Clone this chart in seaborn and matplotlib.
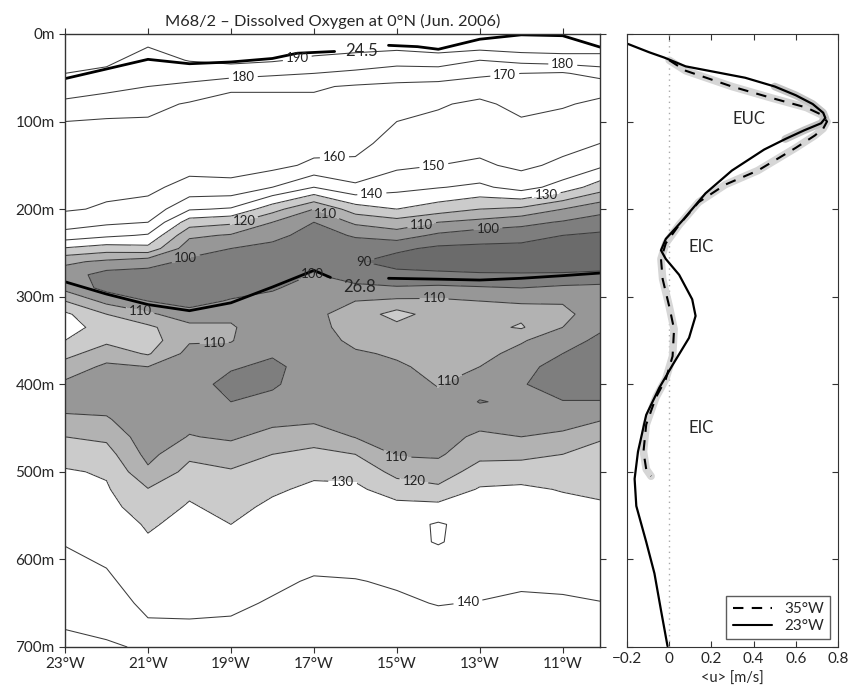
import numpy as np
import matplotlib
matplotlib.use("Agg")
import matplotlib.pyplot as plt
import seaborn as sns
from matplotlib.lines import Line2D

# ---- oxygen section along the equator (umol/kg), one column per station ----
lons = [-23, -22, -21, -20, -19, -18, -17, -16, -15, -14, -13, -12, -11, -10.1]
depths = [0, 15, 30, 45, 60, 80, 100, 125, 150, 175, 200, 215, 230, 245, 260, 275,
          290, 305, 320, 335, 350, 365, 380, 400, 420, 440, 460, 480, 500, 520,
          540, 560, 580, 600, 625, 650, 675, 700]

o2_w23 = [197, 194, 192, 190, 185, 178, 170, 168, 166, 163, 161, 155, 146, 129, 112, 105,
          107, 120, 132, 133, 130, 123, 116, 108, 106, 112, 120, 126, 131, 133,
          135, 137, 139.5, 141.5, 144, 147, 149.5, 152]
o2_w22 = [198, 195, 192, 188, 183, 175, 169, 167, 165, 162, 159, 152, 142, 125, 108, 96,
          97, 107, 120, 127, 122, 115, 108, 104, 106, 111, 118, 124, 129, 131,
          133, 135, 137, 139, 141.5, 144, 148, 151]
o2_w21 = [195, 190, 186, 183, 180, 173, 169, 167, 165, 162, 157, 150, 139, 127, 104, 96,
          94, 100, 112, 122, 125, 121, 110, 106, 104, 103, 104, 107, 112, 120.5,
          125, 129, 131, 133, 135.5, 138, 141, 149]
o2_w20 = [196, 193, 190.5, 184, 178, 169, 167, 166, 163, 157, 141, 125, 112, 104, 98, 94,
          92, 96, 104, 113, 111, 107, 105, 104, 105, 107, 110.5, 118, 123, 128,
          131, 132.5, 134, 135, 137, 138.7, 140.5, 142]
o2_w19 = [197, 195, 192, 185, 171, 168, 167, 166, 164, 157, 139, 122, 109, 100, 95, 92,
          95, 101, 108, 111, 110.5, 107, 101, 97, 100, 104, 108.5, 115, 121, 124,
          127, 130, 132, 134, 136.5, 139, 140.7, 142]
o2_w18 = [197, 195, 191, 182, 171, 168, 167, 165, 163, 150, 124, 110, 103, 97, 94, 94,
          99, 103, 104, 104, 103, 101, 98, 99, 102, 107, 113.5, 120, 125, 128.5,
          132, 134, 135.5, 137, 139, 140.5, 141.5, 142.5]
o2_w17 = [198, 194, 188, 180, 171, 168, 166, 164, 158, 140, 110, 100, 96, 93, 95, 100.5,
          104, 106, 108, 107, 106, 105, 104, 104, 105, 108, 116, 122.5, 128, 132,
          134, 135.5, 137, 138.5, 140.5, 142, 143, 144]
o2_w16 = [198, 193, 186, 178, 169, 167, 165, 163, 158, 148, 125, 112, 101, 95, 91, 96,
          102, 110, 114, 114, 112, 109, 107, 105, 104, 106, 109.5, 120, 127, 132,
          134, 135.5, 137, 138.5, 140.2, 141.5, 142.5, 143.5]
o2_w15 = [198, 192, 184, 175, 168, 164, 160, 156, 152, 143, 130, 116, 105, 92, 86, 93,
          101, 112, 124, 117, 113, 111, 109, 106, 104, 104, 106, 109, 117, 125,
          133, 136, 137.5, 138.5, 139.5, 140.7, 142, 143]
o2_w14 = [199, 194, 185, 175, 167, 161, 158, 154, 150, 140.5, 125, 110, 98, 88, 85, 92,
          102, 112, 115, 117, 116, 114, 112, 110.5, 108, 106, 106, 108.5, 115, 122,
          133, 141, 140.5, 137.5, 138.5, 139.8, 141.5, 142.5]
o2_w13 = [198, 193, 180, 172, 165, 158, 156, 153, 148.5, 138, 120, 107, 94, 88, 85, 91,
          101, 110, 115, 117, 116, 113, 110, 104, 99.5, 106, 112, 117.5, 124, 131,
          134, 136, 137, 137.5, 138.5, 140.2, 141.5, 142.5]
o2_w12 = [199, 195, 183, 170, 166, 163, 159, 155, 152, 144, 118, 103, 94, 87, 84, 91,
          100, 108, 118, 121, 111, 107, 104, 101, 102, 105, 110, 117, 126, 131.5,
          133, 134.5, 136, 137.5, 139.3, 140.8, 142, 143]
o2_w11 = [199, 195, 185, 169, 165, 161, 157, 153, 148, 136, 110, 99, 90, 86, 85, 91,
          102, 109, 113, 110, 104, 100, 95, 94, 100.5, 105, 112.5, 120, 125, 129.5,
          132.5, 134.5, 136, 137, 138.8, 140.8, 142, 143]
o2_w10 = [198, 194, 186, 174, 164, 158, 155, 150, 142, 125, 103, 96, 88, 85, 85, 92,
          103, 106, 104, 101.5, 98, 95, 92, 94, 100.5, 109, 119, 123, 126, 128.5,
          131, 133, 135, 136.5, 138, 140.2, 141.5, 142.5]

# isopycnal depths (sigma-theta 24.5 and 26.8), split where the label sits
sig245_lon_w = [-23, -22, -21, -20, -19, -18, -17.4, -16.5]
sig245_dep_w = [51, 40, 29, 34, 32, 28, 22, 20]
sig245_lon_e = [-15.2, -14.5, -14, -13, -12, -11, -10.1]
sig245_dep_e = [13, 14.5, 17.5, 6, 1, 2, 15]
sig268_lon_w = [-23, -22, -21, -20, -19, -18, -17, -16.6]
sig268_dep_w = [283, 297, 309, 316, 307, 289, 270, 278]
sig268_lon_e = [-15.2, -14, -13, -12, -11, -10.1]
sig268_dep_e = [279, 280, 281, 279, 276, 273]

# mean zonal velocity profiles
u23_depth = [11, 21, 27, 37, 50, 60, 70, 80, 90, 96, 102, 110, 120, 132, 156, 182, 213,
             234, 247, 257, 275, 303, 322, 347, 378, 404, 435, 477, 508, 539, 580,
             616, 658, 699]
u23 = [-0.2, -0.094, -0.023, 0.078, 0.36, 0.5, 0.6, 0.68, 0.73, 0.74, 0.72, 0.64,
       0.55, 0.45, 0.297, 0.172, 0.063, -0.016, -0.039, -0.016, 0.047, 0.109, 0.125,
       0.094, 0.016, -0.047, -0.109, -0.148, -0.164, -0.156, -0.109, -0.07, -0.039,
       -0.008]
u35_depth = [30, 42, 60, 73, 84, 92, 100, 108, 116, 130, 156, 172, 192, 218, 239, 257,
             280, 311, 337, 368, 394, 415, 446, 477, 497, 505]
u35 = [0.0, 0.078, 0.297, 0.484, 0.65, 0.72, 0.748, 0.73, 0.69, 0.6, 0.42, 0.266,
       0.14, 0.047, -0.016, -0.039, -0.031, 0.0, 0.023, 0.016, -0.016, -0.063, -0.109,
       -0.122, -0.109, -0.086]

lon_ticks = [-23, -21, -19, -17, -15, -13, -11]
depth_ticks = [0, 100, 200, 300, 400, 500, 600, 700]
u_ticks = [-0.2, 0, 0.2, 0.4, 0.6, 0.8]

oxygen = np.column_stack([o2_w23, o2_w22, o2_w21, o2_w20, o2_w19, o2_w18, o2_w17,
                          o2_w16, o2_w15, o2_w14, o2_w13, o2_w12, o2_w11, o2_w10])

sns.set_style("ticks")
plt.rcParams['font.family'] = ['Lato', 'DejaVu Sans']
plt.rcParams['axes.edgecolor'] = '#333333'

fig = plt.figure(figsize=(8.51, 6.93), dpi=100)
ax = fig.add_axes([0.0764, 0.0664, 0.6287, 0.8846])
ax2 = fig.add_axes([0.7368, 0.0664, 0.2479, 0.8846])

# filled bands below 130
fill_levels = [0, 90, 100, 110, 120, 130, 260]
fill_colors = ['#6b6b6b', '#7e7e7e', '#979797', '#b2b2b2', '#cbcbcb', '#ffffff']
ax.contourf(lons, depths, oxygen, levels=fill_levels, colors=fill_colors)
cs = ax.contour(lons, depths, oxygen, levels=list(range(90, 200, 10)),
                colors='#3c3c3c', linewidths=0.75)

label_pos = [(-17.4, 28), (-18.7, 51), (-12.4, 45), (-11.0, 36), (-16.5, 146),
             (-14.1, 153), (-15.6, 184), (-11.4, 183), (-18.7, 211), (-16.7, 203),
             (-14.4, 218), (-12.8, 224), (-20.1, 255), (-15.8, 258), (-17.0, 280),
             (-21.2, 319), (-14.1, 310), (-19.4, 357), (-13.8, 391), (-15.0, 484),
             (-14.6, 514), (-16.3, 509), (-13.3, 643)]
labels = ax.clabel(cs, fmt='%d', fontsize=9.5, inline=True, inline_spacing=3,
                   manual=label_pos, colors='#222222')
for t in labels:
    t.set_rotation(0)

# isopycnals
for lo, de in [(sig245_lon_w, sig245_dep_w), (sig245_lon_e, sig245_dep_e),
               (sig268_lon_w, sig268_dep_w), (sig268_lon_e, sig268_dep_e)]:
    sns.lineplot(x=lo, y=de, ax=ax, color='black', lw=2, sort=False, estimator=None)
ax.text(-15.85, 19, '24.5', fontsize=12, ha='center', va='center')
ax.text(-15.9, 289, '26.8', fontsize=12, ha='center', va='center')

ax.set_xlim(-23, -10.1)
ax.set_ylim(700, 0)
ax.set_xticks(lon_ticks)
ax.set_xticklabels([f'{-t}°W' for t in lon_ticks], fontsize=11)
ax.set_yticks(depth_ticks)
ax.set_yticklabels([f'{t}m' for t in depth_ticks], fontsize=11)
ax.tick_params(direction='out', length=4, top=True, right=True, color='#333333')
ax.set_title('M68/2 – Dissolved Oxygen at 0°N (Jun. 2006)', fontsize=11.8, pad=6)
for s in ax.spines.values():
    s.set_linewidth(1)

# ---- velocity profiles ----
ax2.axvline(0, color='#aaaaaa', ls=(0, (1, 3)), lw=1)
sns.lineplot(x=u35, y=u35_depth, ax=ax2, color='#d6d6d6', lw=5.5, sort=False,
             estimator=None)
sns.lineplot(x=u23[5:13], y=u23_depth[5:13], ax=ax2, color='#c4c4c4', lw=5.5,
             sort=False, estimator=None)
sns.lineplot(x=u35, y=u35_depth, ax=ax2, color='black', lw=1.5, sort=False,
             estimator=None, linestyle=(0, (5, 4)))
sns.lineplot(x=u23, y=u23_depth, ax=ax2, color='black', lw=1.6, sort=False,
             estimator=None)
ax2.text(0.38, 97, 'EUC', fontsize=12, ha='center', va='center')
ax2.text(0.15, 243, 'EIC', fontsize=12, ha='center', va='center')
ax2.text(0.15, 450, 'EIC', fontsize=12, ha='center', va='center')

ax2.set_xlim(-0.2, 0.8)
ax2.set_ylim(700, 0)
ax2.set_xticks(u_ticks)
ax2.set_xticklabels(['−0.2', '0', '0.2', '0.4', '0.6', '0.8'], fontsize=11)
ax2.set_yticks(depth_ticks)
ax2.set_yticklabels([])
ax2.tick_params(direction='in', length=4, top=True, right=True, color='#333333')
ax2.set_xlabel('<u> [m/s]', fontsize=10.5, labelpad=4)
ax2.set_ylabel('')
handles = [Line2D([], [], color='black', lw=1.5, ls=(0, (5, 4))),
           Line2D([], [], color='black', lw=1.5)]
leg = ax2.legend(handles, ['35°W', '23°W'], loc='lower right', fontsize=11,
                 frameon=True, fancybox=False, edgecolor='#333333',
                 handlelength=2.6, borderaxespad=0.5, labelspacing=0.2)
leg.get_frame().set_linewidth(1)

fig.savefig('out.png', dpi=100)
